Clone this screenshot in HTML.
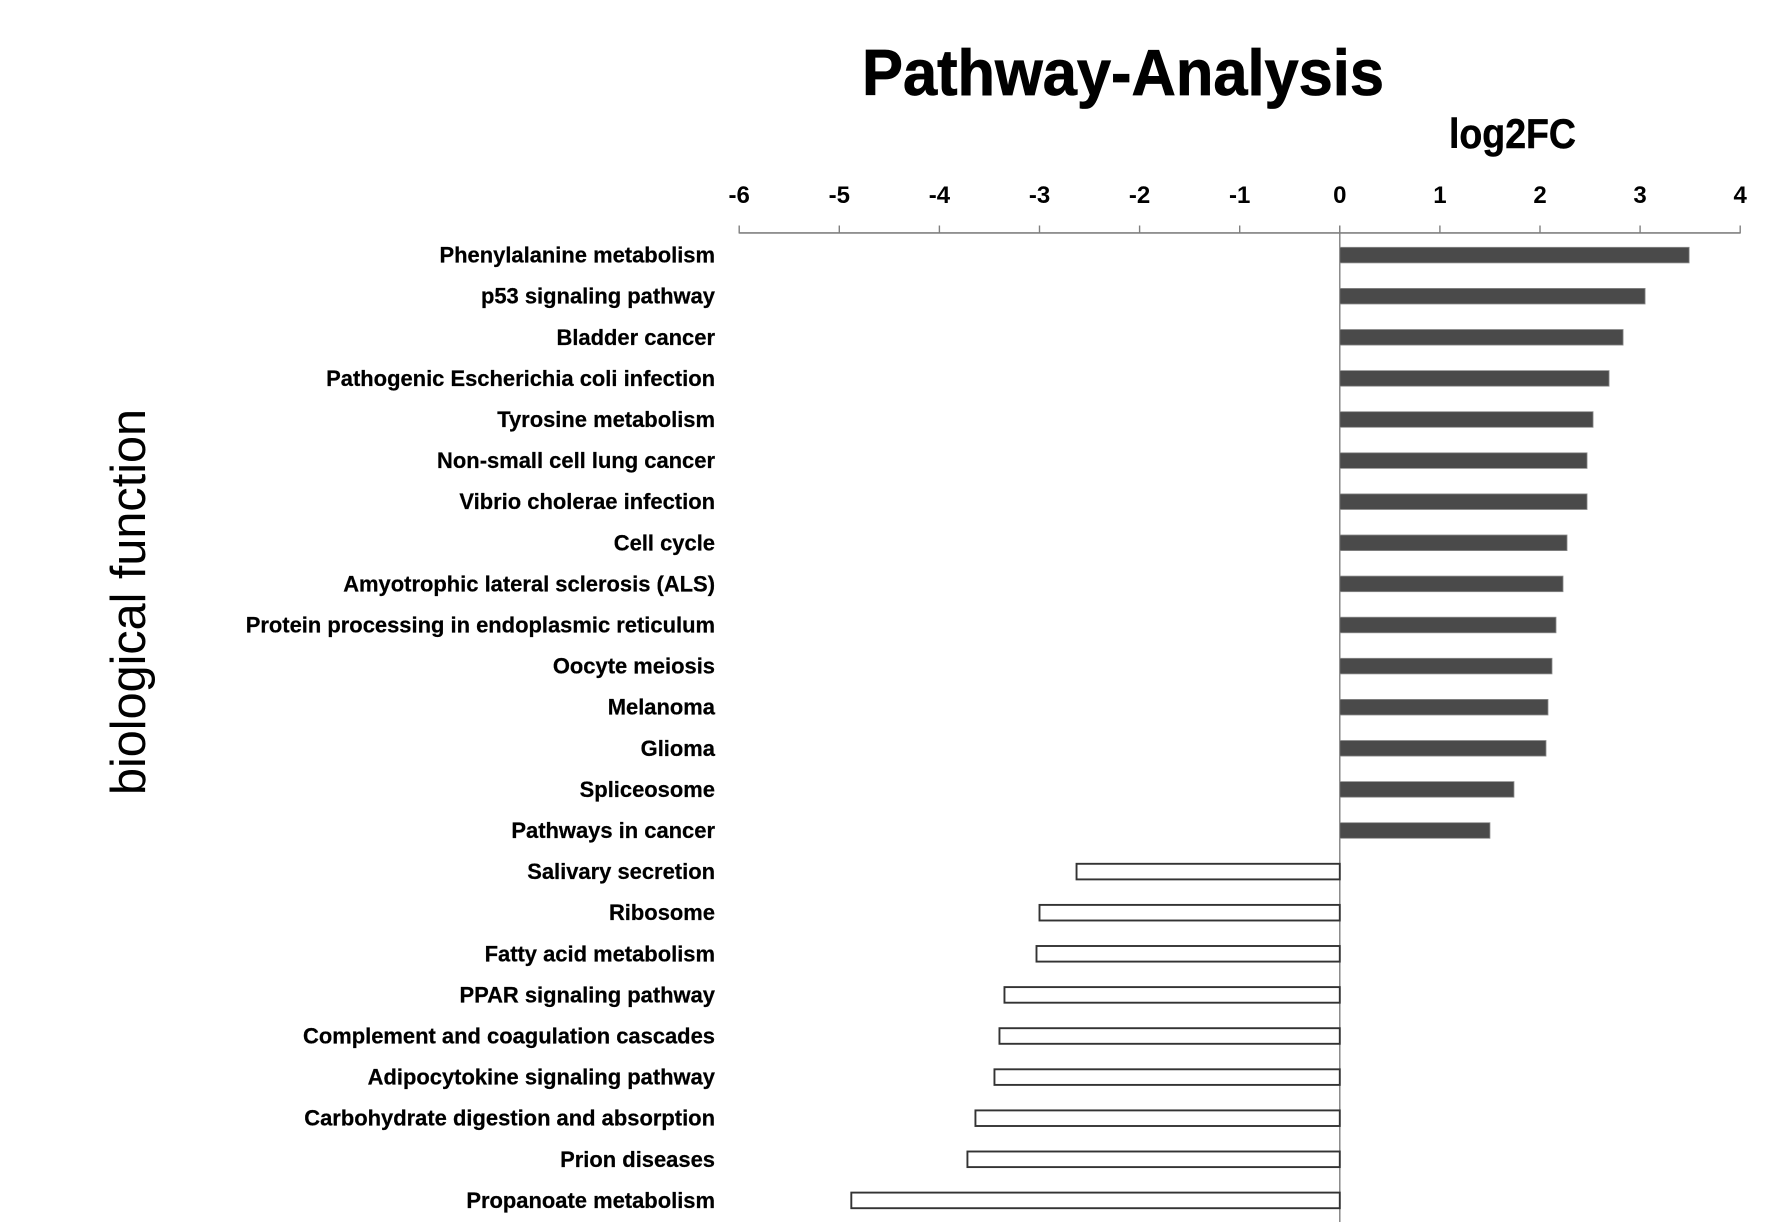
<!DOCTYPE html>
<html lang="en">
<head>
<meta charset="utf-8">
<title>Pathway-Analysis</title>
<style>
html,body{margin:0;padding:0;background:#fff;width:1772px;height:1232px;overflow:hidden}
svg{display:block;font-family:"Liberation Sans",Arial,sans-serif}
</style>
</head>
<body>
<svg id="chart" xmlns="http://www.w3.org/2000/svg" width="1772" height="1232" viewBox="0 0 1772 1232">
  <rect x="0" y="0" width="1772" height="1232" fill="#ffffff"/>
  <text x="862" y="95" font-size="65" font-weight="700" fill="#000" stroke="#000" stroke-width="0.8" textLength="522" lengthAdjust="spacingAndGlyphs">Pathway-Analysis</text>
  <text x="1449" y="148" font-size="42" font-weight="700" fill="#000" stroke="#000" stroke-width="0.5" textLength="127" lengthAdjust="spacingAndGlyphs">log2FC</text>
  <text transform="translate(145,795) rotate(-90)" font-size="49" fill="#000" textLength="386" lengthAdjust="spacingAndGlyphs">biological function</text>
  <g id="axis"></g>
  <g id="bars"></g>
  <g id="labels"></g>
</svg>
<script>
const categories = ["Phenylalanine metabolism","p53 signaling pathway","Bladder cancer","Pathogenic Escherichia coli infection","Tyrosine metabolism","Non-small cell lung cancer","Vibrio cholerae infection","Cell cycle","Amyotrophic lateral sclerosis (ALS)","Protein processing in endoplasmic reticulum","Oocyte meiosis","Melanoma","Glioma","Spliceosome","Pathways in cancer","Salivary secretion","Ribosome","Fatty acid metabolism","PPAR signaling pathway","Complement and coagulation cascades","Adipocytokine signaling pathway","Carbohydrate digestion and absorption","Prion diseases","Propanoate metabolism"];
const log2fc = [3.49,3.05,2.83,2.69,2.53,2.47,2.47,2.27,2.23,2.16,2.12,2.08,2.06,1.74,1.50,-2.63,-3.00,-3.03,-3.35,-3.40,-3.45,-3.64,-3.72,-4.88];
const xTicks = [-6,-5,-4,-3,-2,-1,0,1,2,3,4];

const NS = "http://www.w3.org/2000/svg";
const xScale = v => 1339.8 + v * 100.1;
const yScale = i => 255.1 + i * 41.1;
const LABEL_SCALE = 0.975;

function make(tag, parent, attrs) {
  const el = document.createElementNS(NS, tag);
  for (const k in attrs) el.setAttribute(k, attrs[k]);
  parent.appendChild(el);
  return el;
}

const axisG = document.getElementById("axis");
const barsG = document.getElementById("bars");
const labelsG = document.getElementById("labels");

const axisLine = make("line", axisG, {x1: xScale(xTicks[0]), x2: xScale(xTicks[xTicks.length - 1]), y1: 232.9, y2: 232.9, stroke: "#808080", "stroke-width": 1.6});



xTicks.forEach(t => {
  const tick = make("line", axisG, {x1: xScale(t), x2: xScale(t), y1: 225.5, y2: 233.5, stroke: "#808080", "stroke-width": 1.4});
  
  
  const lab = make("text", axisG, {x: xScale(t), y: 203, "font-size": 24, "font-weight": 700, "text-anchor": "middle", fill: "#000"});
  lab.textContent = String(t);
  
  
});

log2fc.forEach((v, i) => {
  const x0 = xScale(0), x1 = xScale(v), cy = yScale(i);
  const bar = v >= 0
    ? make("rect", barsG, {x: x0, y: cy - 7.8, width: x1 - x0, height: 15.6, fill: "#4a4a4a", stroke: "#8c8c8c", "stroke-width": 0.8})
    : make("rect", barsG, {x: x1, y: cy - 7.8, width: x0 - x1, height: 15.6, fill: "#ffffff", stroke: "#333333", "stroke-width": 1.9});
  
  
  const lab = make("text", labelsG, {transform: "translate(715," + (cy + 7.5) + ") scale(" + LABEL_SCALE + ",1)", "font-size": 22.5, "font-weight": 700, "text-anchor": "end", fill: "#000", stroke: "#000", "stroke-width": 0.25});
  lab.textContent = categories[i];
  
  
});

const zeroLine = make("line", axisG, {x1: xScale(0), x2: xScale(0), y1: 225.5, y2: 1222, stroke: "#808080", "stroke-width": 1.4});


</script>
</body>
</html>
